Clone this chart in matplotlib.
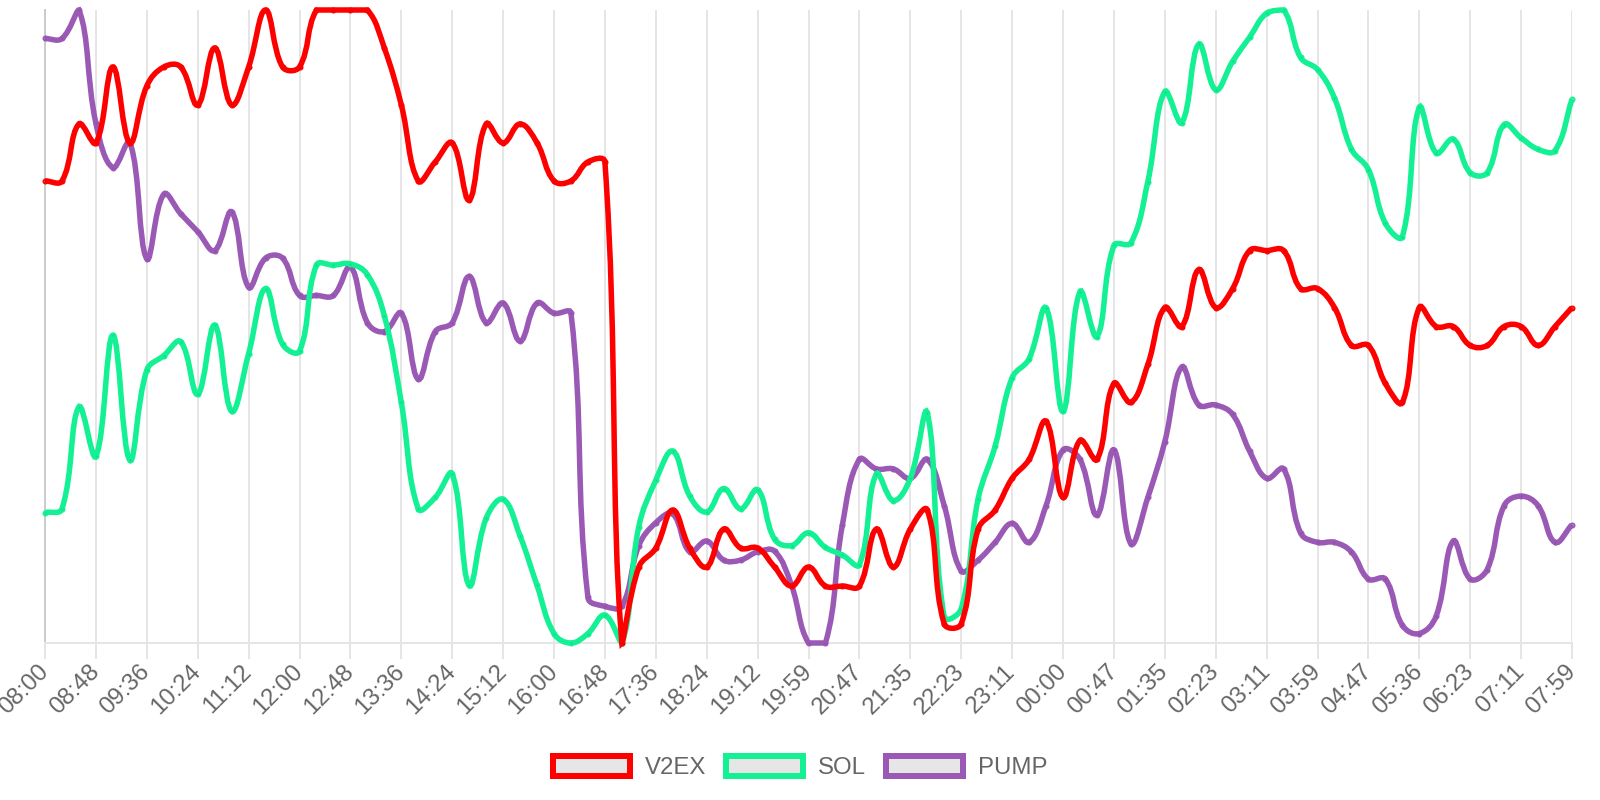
import numpy as np
import matplotlib
matplotlib.use("Agg")
import matplotlib.pyplot as plt
from matplotlib.path import Path
from matplotlib.patches import PathPatch, Rectangle

tick_labels = ["08:00", "08:48", "09:36", "10:24", "11:12", "12:00", "12:48", "13:36",
               "14:24", "15:12", "16:00", "16:48", "17:36", "18:24", "19:12", "19:59",
               "20:47", "21:35", "22:23", "23:11", "00:00", "00:47", "01:35", "02:23",
               "03:11", "03:59", "04:47", "05:36", "06:23", "07:11", "07:59"]

v2ex = [73, 73, 82, 79, 91, 79, 88, 91, 91, 85, 94, 85, 91, 100, 91, 91,
        100, 100, 100, 100, 94, 85, 73, 76, 79, 70, 82, 79, 82, 79, 73,
        73, 76, 76, 0, 12, 15, 21, 15, 12, 18, 15, 15, 12, 9, 12, 9,
        9, 9, 18, 12, 18, 21, 3, 3, 18, 21, 26, 29, 35, 23,
        32, 29, 41, 38, 44, 53, 50, 59, 53, 56, 62, 62, 62, 56, 56,
        53, 47, 47, 41, 38, 53, 50, 50, 47, 47, 50, 50, 47, 50, 53]

sol = [20.6, 21.2, 37.3, 29.5, 48.6, 28.9, 43.1, 45.4, 47.6, 39.3, 50.2, 36.6, 45.7, 56.0, 47.2, 46.1,
       59.7, 59.7, 59.9, 58.2, 51.7, 38.0, 21.2, 23.0, 26.7, 9.1, 19.7, 22.7, 16.9, 9.1, 1.5,
       0, 1.5, 4.4, 0, 18.4, 25.7, 30.3, 23.2, 20.7, 24.4, 21.2, 24.2, 16.4, 15.4, 17.4, 15.1,
       13.9, 12.4, 26.7, 22.5, 26.0, 36.3, 4.1, 5.4, 22.8, 31.1, 41.9, 44.9, 52.9, 36.6,
       55.5, 48.4, 62.8, 63.2, 72.9, 87.1, 82.2, 94.6, 87.4, 91.9, 95.7, 99.5, 100, 92.5, 90.6,
       86.1, 78.0, 74.8, 66.3, 64.2, 84.6, 77.4, 79.6, 74.3, 74.3, 81.9, 79.8, 78.0, 77.8, 85.9]

pump = [95.5, 95.5, 100, 82.1, 75.1, 79.1, 60.7, 70.9, 67.8, 65.0, 62.0, 68.1, 56.2, 60.8, 60.8, 54.9,
        54.9, 54.9, 59.4, 50.6, 49.2, 52.1, 41.7, 49.2, 50.6, 57.9, 50.6, 53.7, 47.7, 53.7, 52.1,
        52.1, 7.2, 5.8, 5.8, 15.4, 19.0, 20.4, 14.4, 16.1, 13.1, 13.1, 14.4, 14.5, 9.1, 0, 0,
        18.7, 29.0, 27.5, 27.5, 26.0, 29.0, 21.7, 11.4, 13.1, 15.9, 18.9, 15.9, 21.7, 30.5,
        29.0, 20.2, 30.5, 15.7, 23.0, 31.8, 43.6, 37.6, 37.6, 36.1, 30.3, 26.0, 27.5, 17.4, 15.9,
        15.9, 14.4, 10.1, 10.1, 2.8, 1.5, 4.3, 16.1, 10.1, 11.6, 21.7, 23.2, 21.7, 15.9, 18.7]

names = ["V2EX", "SOL", "PUMP"]
colors = ["#ff0000", "#13f194", "#9b59b6"]

W, H = 1600, 800
PX = 0.72  # points per pixel at dpi 100
fig = plt.figure(figsize=(16, 8), dpi=100)
ax = fig.add_axes([45 / W, 1 - 643 / H, (1572 - 45) / W, (643 - 10) / H])

n = len(v2ex)
x = np.arange(n)
ax.set_xlim(0, n - 1)
ax.set_ylim(0, 100)


def spline_path(xs, ys, tension=0.4):
    # chart.js style spline: control points computed in pixel space, capped to the chart area
    pts = ax.transData.transform(np.column_stack([xs, ys]))
    x0, y0, x1, y1 = ax.bbox.extents
    m = len(pts)
    cp_prev = np.zeros_like(pts)
    cp_next = np.zeros_like(pts)
    for i in range(m):
        prev = pts[i - 1] if i > 0 else pts[i]
        cur = pts[i]
        nxt = pts[i + 1] if i < m - 1 else pts[i]
        d01 = np.hypot(*(cur - prev))
        d12 = np.hypot(*(nxt - cur))
        tot = d01 + d12
        s01 = d01 / tot if tot > 0 else 0
        s12 = d12 / tot if tot > 0 else 0
        cp_prev[i] = cur - tension * s01 * (nxt - prev)
        cp_next[i] = cur + tension * s12 * (nxt - prev)
    for cp in (cp_prev, cp_next):
        cp[:, 0] = np.clip(cp[:, 0], x0, x1)
        cp[:, 1] = np.clip(cp[:, 1], y0, y1)
    verts = [pts[0]]
    codes = [Path.MOVETO]
    for i in range(m - 1):
        verts += [cp_next[i], cp_prev[i + 1], pts[i + 1]]
        codes += [Path.CURVE4] * 3
    verts = ax.transData.inverted().transform(np.array(verts))
    return Path(verts, codes)


data = [v2ex, sol, pump]
for k in range(len(data) - 1, -1, -1):
    z = 10 - k
    patch = PathPatch(spline_path(x, data[k]), facecolor="none", edgecolor=colors[k],
                      lw=5.5 * PX, clip_on=False, zorder=z)
    ax.add_patch(patch)
    ax.plot(x, data[k], "o", ms=4 * PX, mfc=(0, 0, 0, 0.1), mec=colors[k], mew=2 * PX,
            clip_on=False, zorder=z + 0.5)

ax.set_xticks(np.arange(0, n, 3))
ax.set_xticklabels(tick_labels, rotation=45, ha="right", va="center", rotation_mode="anchor",
                   fontsize=17.3, color="#666666", family=["Liberation Sans", "DejaVu Sans"])
ax.tick_params(axis="x", length=16 * PX, width=2 * PX, color="#e5e5e5", pad=7)
ax.tick_params(axis="y", left=False, labelleft=False)
ax.grid(axis="x", color="#e5e5e5", lw=2 * PX)
ax.set_axisbelow(True)
for s in ("top", "right"):
    ax.spines[s].set_visible(False)
ax.spines["left"].set_color("#cccccc")
ax.spines["left"].set_linewidth(2 * PX)
ax.spines["bottom"].set_color("#e5e5e5")
ax.spines["bottom"].set_linewidth(2 * PX)

# legend drawn by hand to match the boxed look
box_left = [550, 723, 883]
text_left = [645, 818, 978]
cy = 766
for k in range(3):
    bx0, bx1 = box_left[k] + 3, box_left[k] + 83 - 3
    fig.add_artist(Rectangle((bx0 / W, 1 - (cy + 10) / H), (bx1 - bx0) / W, 20 / H,
                             transform=fig.transFigure, facecolor="#e6e6e6",
                             edgecolor=colors[k], lw=6 * PX))
    fig.text(text_left[k] / W, 1 - cy / H, names[k], fontsize=17.3, color="#666666",
             ha="left", va="center_baseline", family=["Liberation Sans", "DejaVu Sans"])

fig.savefig("out.png", dpi=100, facecolor="white")
